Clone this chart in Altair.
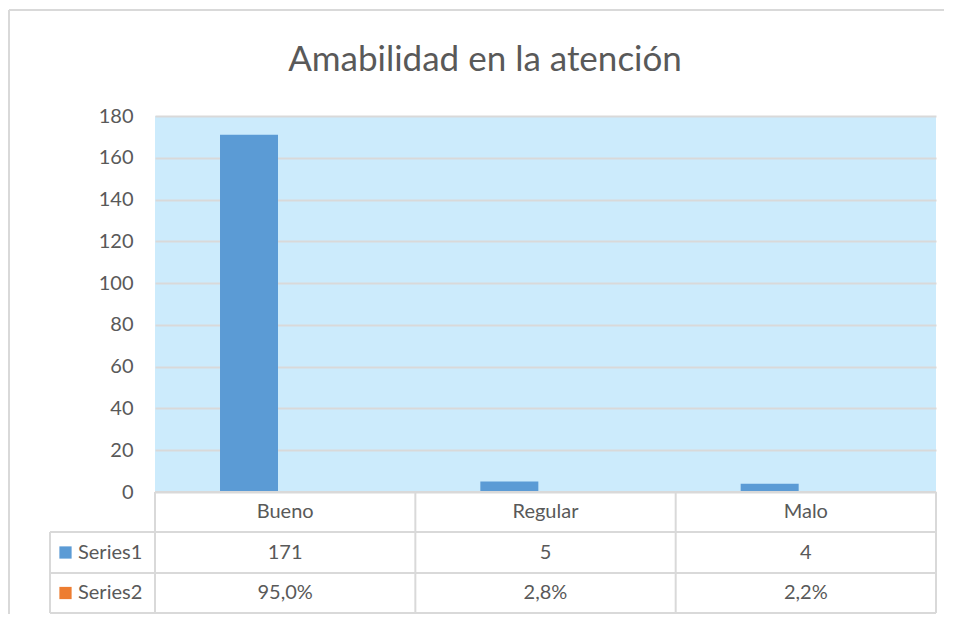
import altair as alt
import pandas as pd

categories = ["Bueno", "Regular", "Malo"]
series_names = ["Series1", "Series2"]
series1 = [171, 5, 4]
series2 = [0.95, 0.028, 0.022]
y_ticks = [0, 20, 40, 60, 80, 100, 120, 140, 160, 180]
title_text = "Amabilidad en la atención"

W, H = 781, 376
FONT = "Lato"
TXT = "#595959"
GRID = "#D9D9D9"
BAR = "#5B9BD5"
ORANGE = "#ED7D31"

df = pd.DataFrame({
    "cat": categories,
    "s1": series1,
    "s2": series2,
    "series": ["Series1"] * len(categories),
})
df["s1_label"] = [str(v) for v in series1]
df["s2_label"] = [f"{v*100:.1f}%".replace(".", ",") for v in series2]
legend_df = pd.DataFrame({"series": series_names, "color": [BAR, ORANGE]})
one = pd.DataFrame({"a": [0]})

xenc = alt.X("cat:N", sort=categories,
             scale=alt.Scale(paddingInner=0, paddingOuter=0), axis=None)

bars = alt.Chart(df).mark_bar(color=BAR).encode(
    x=xenc,
    xOffset=alt.XOffset("series:N", scale=alt.Scale(domain=series_names, paddingInner=0.198, paddingOuter=0.899)),
    y=alt.Y("s1:Q", scale=alt.Scale(domain=[0, 180]),
            axis=alt.Axis(values=y_ticks, grid=True, gridColor=GRID, gridWidth=2,
                          domain=False, ticks=False, labelFont=FONT, labelFontSize=20,
                          labelColor=TXT, labelPadding=22, title=None)),
)

def hrule(y, x1, x2):
    return alt.Chart(one).mark_rule(color=GRID, strokeWidth=2).encode(
        x=alt.value(x1), x2=alt.value(x2), y=alt.value(y), y2=alt.value(y))

def vrule(x, y1, y2):
    return alt.Chart(one).mark_rule(color=GRID, strokeWidth=2).encode(
        x=alt.value(x), x2=alt.value(x), y=alt.value(y1), y2=alt.value(y2))

col_lines = alt.Chart(df).mark_rule(color=GRID, strokeWidth=2).encode(
    x=alt.X("cat:N", sort=categories, bandPosition=0),
    y=alt.value(376), y2=alt.value(497))

header = alt.Chart(df).mark_text(font=FONT, fontSize=20, color=TXT, baseline="middle").encode(
    x=alt.X("cat:N", sort=categories), y=alt.value(396), text="cat:N")
row1 = alt.Chart(df).mark_text(font=FONT, fontSize=20, color=TXT, baseline="middle").encode(
    x=alt.X("cat:N", sort=categories), y=alt.value(436.5), text="s1_label:N")
row2 = alt.Chart(df).mark_text(font=FONT, fontSize=20, color=TXT, baseline="middle").encode(
    x=alt.X("cat:N", sort=categories), y=alt.value(477), text="s2_label:N")

leg_sq1 = alt.Chart(legend_df).transform_filter(alt.datum.series == "Series1").mark_square(
    size=150, opacity=1, filled=True).encode(
    x=alt.value(-89.5), y=alt.value(436.5), color=alt.Color("color:N", scale=None))
leg_sq2 = alt.Chart(legend_df).transform_filter(alt.datum.series == "Series2").mark_square(
    size=150, opacity=1, filled=True).encode(
    x=alt.value(-89.5), y=alt.value(477), color=alt.Color("color:N", scale=None))
leg_t1 = alt.Chart(legend_df).transform_filter(alt.datum.series == "Series1").mark_text(
    font=FONT, fontSize=20, color=TXT, align="left", baseline="middle").encode(
    x=alt.value(-77), y=alt.value(436.5), text="series:N")
leg_t2 = alt.Chart(legend_df).transform_filter(alt.datum.series == "Series2").mark_text(
    font=FONT, fontSize=20, color=TXT, align="left", baseline="middle").encode(
    x=alt.value(-77), y=alt.value(477), text="series:N")

title = alt.Chart(one).mark_text(font=FONT, fontSize=35, color=TXT, baseline="middle",
                                 align="center").encode(
    x=alt.value(330), y=alt.value(-56), text=alt.value(title_text))

frame = [hrule(-106, -146, W + 8), vrule(-146, -106, 505)]

layers = [bars] + frame + [
    hrule(376, 0, W), hrule(416, -105, W), hrule(457, -105, W), hrule(497, -105, W),
    vrule(-105, 416, 497), vrule(W, 376, 497), col_lines,
    header, row1, row2, leg_sq1, leg_sq2, leg_t1, leg_t2, title,
]

chart = alt.layer(*layers).properties(
    width=W, height=H,
    background="white",
    autosize=alt.AutoSizeParams(type="none"),
    padding={"left": 147, "top": 108, "right": 8, "bottom": 122},
).configure_view(fill="#CCEBFC", stroke=None)

chart.save("out.html", embed_options={"renderer": "svg", "actions": False})
